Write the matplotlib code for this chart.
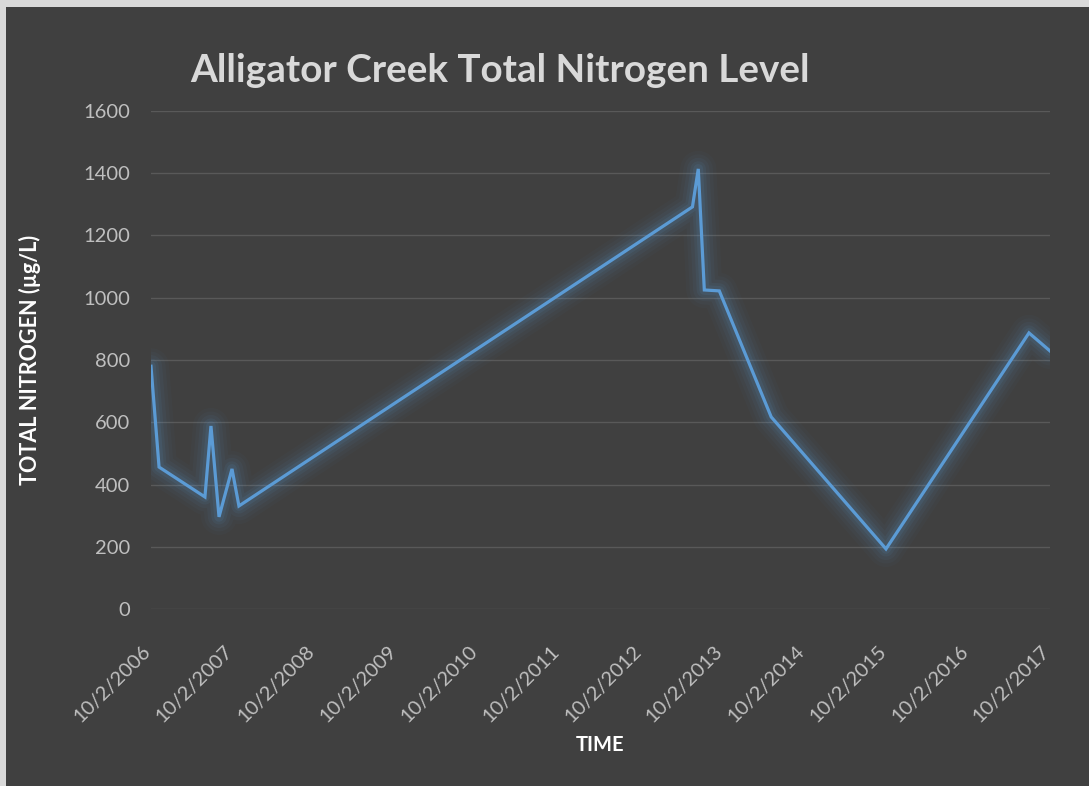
import numpy as np
import pandas as pd
import matplotlib
matplotlib.use('Agg')
import matplotlib.pyplot as plt
import matplotlib.transforms as mtransforms
from matplotlib.patches import Rectangle

plt.rcParams['font.family'] = ['Lato', 'DejaVu Sans']

# sample dates and total nitrogen readings (µg/L)
dates = ['2006-10-02', '2006-11-07', '2007-05-31', '2007-06-27', '2007-08-02',
         '2007-09-29', '2007-10-30', '2013-05-18', '2013-06-13', '2013-07-10',
         '2013-09-15', '2014-05-05', '2015-09-30', '2017-06-30', '2017-10-02']
nitrogen = [780, 456, 360, 588, 296, 450, 331, 1292, 1414, 1025,
            1022, 617, 193, 887, 829]

tick_years = list(range(2006, 2018))
tick_dates = [pd.Timestamp(f'{y}-10-02') for y in tick_years]
tick_labels = [f'10/2/{y}' for y in tick_years]

BG = '#404040'
LINE = '#5B9BD5'

fig = plt.figure(figsize=(10.89, 7.86), dpi=100, facecolor='#D9D9D9')
fig.add_artist(Rectangle((6 / 1089, 0), 1, 1 - 7 / 786, transform=fig.transFigure,
                         facecolor=BG, edgecolor='none', zorder=0))

ax = fig.add_axes([151 / 1089, 177 / 786, 899 / 1089, 498 / 786])
ax.set_facecolor(BG)

x = pd.to_datetime(dates)

# soft glow round the line
for lw, a in [(26, 0.03), (21, 0.04), (16, 0.055), (11, 0.075), (7, 0.10)]:
    ax.plot(x, nitrogen, color=LINE, lw=lw, alpha=a, solid_capstyle='round',
            solid_joinstyle='round')
ax.plot(x, nitrogen, color=LINE, lw=2.3, solid_joinstyle='miter')

ax.set_ylim(0, 1600)
ax.set_yticks(range(0, 1601, 200))
ax.set_xlim(tick_dates[0], tick_dates[-1])
ax.set_xticks(tick_dates)
ax.set_xticklabels(tick_labels, rotation=45, ha='right', va='top',
                   rotation_mode='anchor')

ax.grid(axis='y', color='#595959', lw=1)
ax.set_axisbelow(True)
for s in ax.spines.values():
    s.set_visible(False)
ax.tick_params(length=0, colors='#BFBFBF')
ax.tick_params(axis='y', pad=15, labelsize=14.5)
ax.tick_params(axis='x', pad=24, labelsize=14.5)
shift = mtransforms.ScaledTranslation(-9 / 100, 0, fig.dpi_scale_trans)
for lbl in ax.get_xticklabels():
    lbl.set_transform(lbl.get_transform() + shift)

fig.text(190 / 1089, 1 - 70 / 786, 'Alligator Creek Total Nitrogen Level',
         fontsize=27.8, fontweight='bold', color='#D9D9D9', va='center', ha='left')
fig.text(30 / 1089, 1 - 360 / 786, 'TOTAL NITROGEN (µg/L)', rotation=90,
         fontsize=15.5, fontweight='bold', color='white', va='center', ha='center')
fig.text(600 / 1089, 1 - 745 / 786, 'TIME', fontsize=14.5, fontweight='bold',
         color='white', va='center', ha='center')

fig.savefig('out.png', dpi=100, facecolor=fig.get_facecolor())
